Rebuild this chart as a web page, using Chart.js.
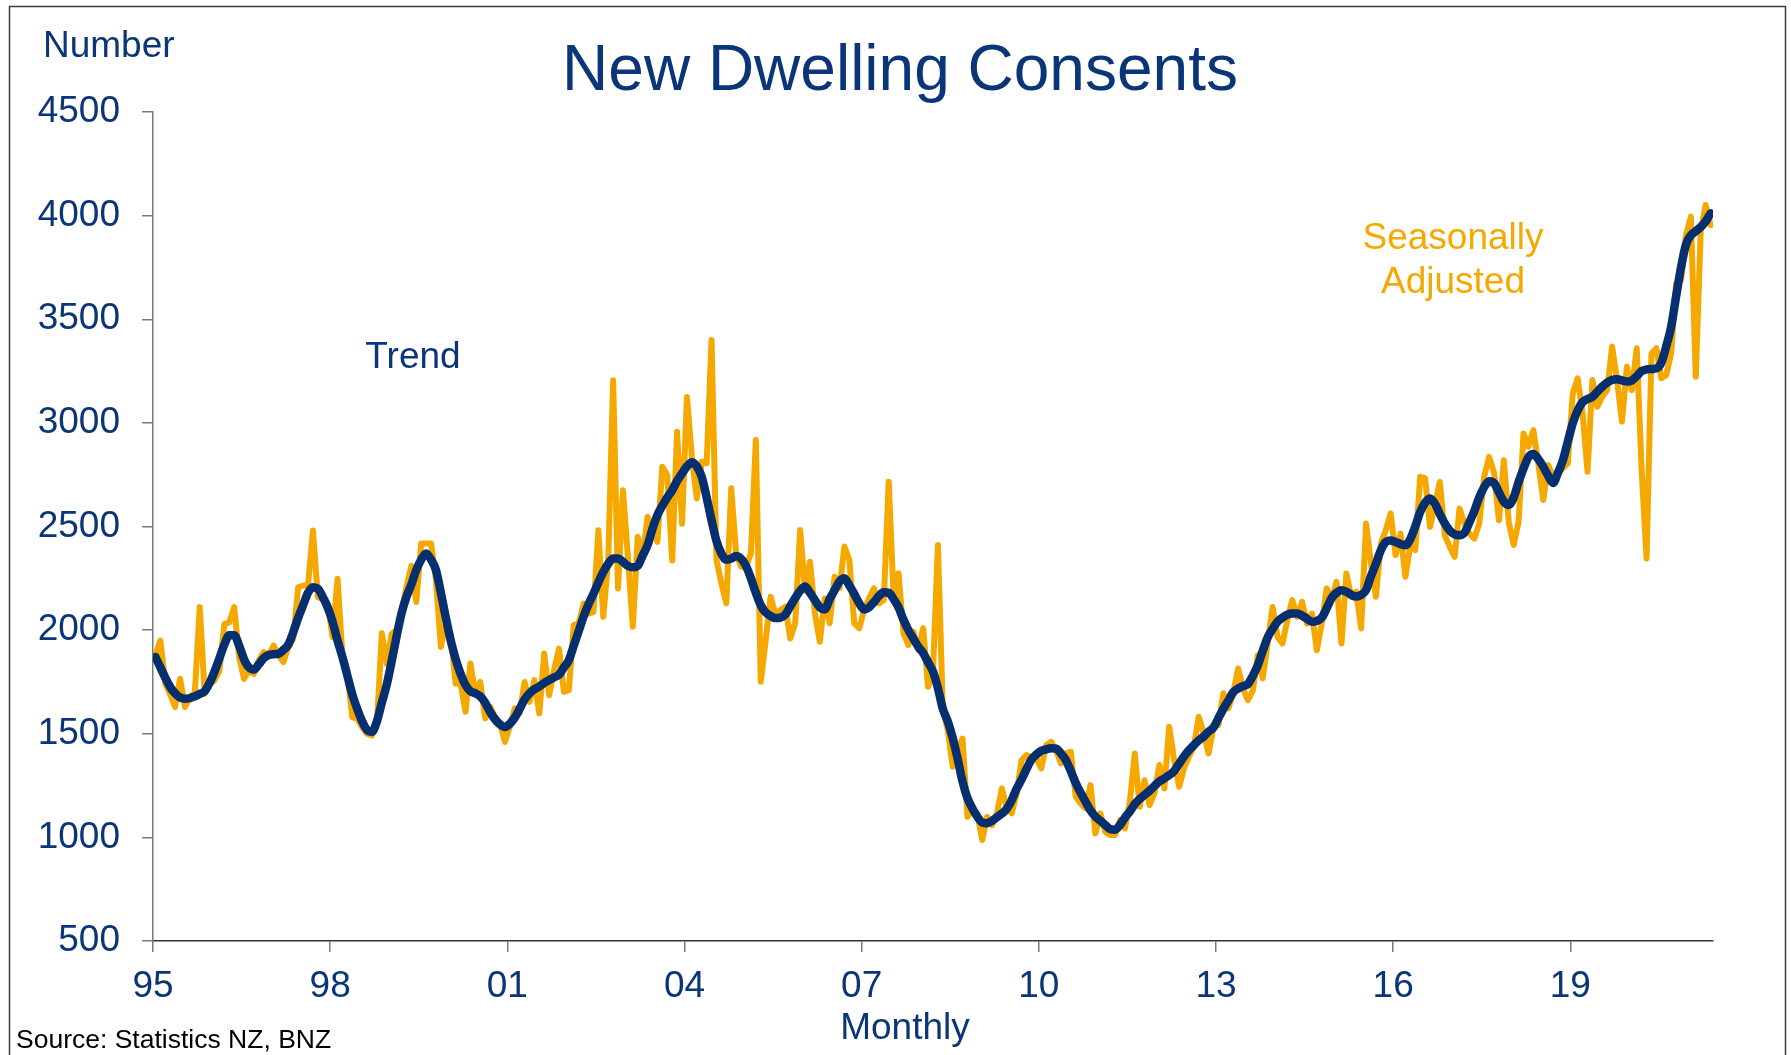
<!DOCTYPE html>
<html>
<head>
<meta charset="utf-8">
<title>New Dwelling Consents</title>
<script src="https://cdn.jsdelivr.net/npm/chart.js@4.4.1/dist/chart.umd.min.js"></script>
<style>
  html, body { margin: 0; padding: 0; background: #fff; }
  #wrap { position: relative; width: 1791px; height: 1055px; }
</style>
</head>
<body>
<div id="wrap"><canvas id="chart" width="1791" height="1055"></canvas></div>
<script>
// New Dwelling Consents ‚Äî monthly, Jan 1995 to May 2021
const START_YEAR = 1995;

// Seasonally adjusted (one row per year)
const seasonallyAdjusted = [
  1880, 1950, 1741, 1690, 1629, 1765, 1629, 1677, 1700, 2111, 1693, 1741,
  1757, 1805, 2029, 2037, 2111, 1870, 1765, 1805, 1789, 1854, 1894, 1878,
  1926, 1878, 1846, 1918, 1958, 2207, 2215, 2215, 2481, 2159, 2151, 2127,
  1966, 2248, 1870, 1789, 1580, 1572, 1532, 1500, 1492, 1548, 1985, 1838,
  1982, 2000, 2095, 2207, 2310, 2136, 2418, 2418, 2418, 2241, 1919, 2032,
  1976, 1742, 1742, 1606, 1839, 1694, 1750, 1574, 1630, 1582, 1550, 1461,
  1533, 1622, 1598, 1750, 1654, 1759, 1598, 1887, 1686, 1807, 1911, 1702,
  1710, 2024, 2032, 2128, 2080, 2088, 2482, 2064, 2337, 3206, 2201, 2675,
  2354, 2016, 2450, 2354, 2546, 2480, 2426, 2788, 2748, 2337, 2957, 2514,
  3125, 2836, 2635, 2813, 2805, 3400, 2338, 2226, 2129, 2684, 2370, 2306,
  2306, 2370, 2917, 1751, 1952, 2161, 2073, 2097, 2113, 1960, 2033, 2483,
  2193, 2330, 2081, 1944, 2153, 2033, 2258, 2202, 2403, 2338, 2033, 2009,
  2097, 2153, 2202, 2129, 2145, 2716, 2161, 2274, 1985, 1928, 1993, 1904,
  2009, 1727, 1800, 2411, 1615, 1518, 1341, 1420, 1477, 1099, 1132, 1116,
  987, 1099, 1059, 1116, 1236, 1140, 1116, 1212, 1373, 1397, 1389, 1381,
  1333, 1445, 1461, 1421, 1357, 1405, 1413, 1196, 1164, 1140, 1252, 1019,
  1116, 1027, 1011, 1011, 1083, 1043, 1172, 1405, 1148, 1276, 1156, 1212,
  1349, 1236, 1534, 1373, 1244, 1333, 1389, 1437, 1582, 1502, 1405, 1534,
  1542, 1695, 1622, 1695, 1815, 1718, 1662, 1710, 1879, 1767, 1935, 2112,
  1968, 1935, 2048, 2145, 2064, 2137, 2032, 2080, 1903, 2032, 2201, 2145,
  2233, 1935, 2273, 2161, 2185, 2008, 2514, 2321, 2161, 2418, 2482, 2563,
  2362, 2466, 2257, 2410, 2386, 2740, 2732, 2498, 2603, 2715, 2458, 2402,
  2354, 2587, 2514, 2466, 2442, 2514, 2740, 2836, 2760, 2530, 2820, 2520,
  2411, 2523, 2949, 2885, 2965, 2805, 2628, 2797, 2740, 2756, 2781, 2805,
  3142, 3215, 3046, 2764, 3207, 3078, 3126, 3158, 3368, 3207, 3006, 3271,
  3158, 3360, 2772, 2346, 3335, 3360, 3215, 3231, 3335, 3673, 3689, 3906,
  3995, 3223, 3922, 4051, 3954
];

// Trend (one row per year)
const trend = [
  1870, 1820, 1770, 1725, 1695, 1675, 1669, 1672, 1680, 1692, 1705, 1745,
  1800, 1865, 1930, 1975, 1975, 1925, 1860, 1820, 1810, 1835, 1865, 1880,
  1884, 1886, 1905, 1930, 1990, 2060, 2120, 2180, 2207, 2200, 2160, 2110,
  2040, 1950, 1870, 1780, 1690, 1620, 1560, 1518, 1510, 1560, 1650, 1737,
  1850, 1970, 2080, 2160, 2220, 2290, 2340, 2370, 2340, 2290, 2180, 2060,
  1950, 1860, 1790, 1735, 1705, 1695, 1680, 1650, 1605, 1570, 1545, 1533,
  1548, 1578, 1620, 1665, 1695, 1715, 1728, 1745, 1759, 1772, 1785, 1820,
  1855, 1925, 1995, 2065, 2125, 2175, 2230, 2280, 2320, 2345, 2345, 2330,
  2310, 2303, 2310, 2360, 2410, 2490, 2555, 2600, 2640, 2675, 2720, 2756,
  2790, 2810, 2790, 2740, 2640, 2530, 2430, 2370, 2340, 2345, 2358, 2345,
  2310, 2250, 2180, 2120, 2085, 2068, 2058, 2060, 2075, 2115, 2155, 2190,
  2210, 2180, 2145, 2110, 2100, 2150, 2193, 2235, 2250, 2215, 2175, 2130,
  2100, 2110, 2135, 2165, 2183, 2180, 2150, 2110, 2050, 2000, 1960, 1920,
  1890, 1845, 1800, 1720, 1620, 1560, 1480, 1380, 1270, 1190, 1140, 1100,
  1072, 1068, 1080, 1097, 1115, 1138, 1180, 1235, 1280, 1330, 1375, 1400,
  1418, 1425, 1430, 1428, 1405, 1373, 1320, 1262, 1215, 1172, 1130, 1100,
  1080, 1060, 1040, 1037, 1060, 1095, 1125, 1160, 1185, 1205, 1225, 1248,
  1270, 1284, 1300, 1320, 1355, 1390, 1420, 1445, 1468, 1487, 1510, 1530,
  1575, 1620, 1660, 1700, 1718, 1730, 1740, 1780, 1830, 1900, 1965, 2005,
  2040, 2060, 2075, 2080, 2080, 2070, 2055, 2040, 2045, 2060, 2105, 2155,
  2180, 2193, 2185, 2170, 2162, 2170, 2193, 2260, 2320, 2385, 2425, 2433,
  2425, 2415, 2410, 2440, 2500, 2570, 2615, 2635, 2610, 2560, 2515, 2480,
  2462, 2458, 2470, 2520, 2575, 2640, 2690, 2718, 2710, 2665, 2620, 2604,
  2640, 2715, 2780, 2835, 2850, 2825, 2789, 2745, 2710, 2760, 2820, 2910,
  2998, 3060, 3100, 3115, 3126, 3150, 3175, 3195, 3208, 3210, 3205, 3200,
  3205, 3225, 3250, 3258, 3260, 3263, 3290, 3370, 3464, 3610, 3750, 3860,
  3905, 3925, 3945, 3972, 4011
];

// Axis ticks
const xTickYears = [1995, 1998, 2001, 2004, 2007, 2010, 2013, 2016, 2019];
const xTickLabels = ['95', '98', '01', '04', '07', '10', '13', '16', '19'];
const yTicks = [500, 1000, 1500, 2000, 2500, 3000, 3500, 4000, 4500];

// Colours / fonts
const NAVY = '#0a3578';
const TREND_BLUE = '#062f6f';
const ORANGE = '#f5a800';
const AXIS_GREY = '#7a7a7a';
const FONT = '"Liberation Sans", Arial, sans-serif';

// each month sits in the middle of its slot on the year axis
function toPoints(values) {
  return values.map((v, k) => ({ x: START_YEAR + (k + 0.5) / 12, y: v }));
}

// Titles, series labels, source and frame
const textPlugin = {
  id: 'chartText',
  afterDraw(chart) {
    const ctx = chart.ctx;
    ctx.save();

    ctx.strokeStyle = '#3c3c3c';
    ctx.lineWidth = 1.5;
    ctx.strokeRect(9.5, 6.5, 1776, 1070);

    ctx.textBaseline = 'alphabetic';
    ctx.fillStyle = NAVY;

    ctx.textAlign = 'center';
    ctx.font = '64px ' + FONT;
    ctx.fillText('New Dwelling Consents', 900, 90);

    ctx.font = '37px ' + FONT;
    ctx.textAlign = 'left';
    ctx.fillText('Number', 43, 57);

    ctx.textAlign = 'center';
    ctx.fillText('Trend', 413, 368);
    ctx.fillText('Monthly', 905, 1039);

    ctx.fillStyle = ORANGE;
    ctx.fillText('Seasonally', 1453, 249);
    ctx.fillText('Adjusted', 1453, 293);

    ctx.fillStyle = '#000';
    ctx.textAlign = 'left';
    ctx.font = '26.5px ' + FONT;
    ctx.fillText('Source: Statistics NZ, BNZ', 16, 1048);

    ctx.restore();
  }
};

const ctx = document.getElementById('chart').getContext('2d');

new Chart(ctx, {
  type: 'line',
  data: {
    datasets: [
      {
        label: 'Trend',
        data: toPoints(trend),
        borderColor: TREND_BLUE,
        borderWidth: 8.5,
        cubicInterpolationMode: 'monotone',
        borderCapStyle: 'round',
        borderJoinStyle: 'round',
        pointRadius: 0,
        fill: false
      },
      {
        label: 'Seasonally Adjusted',
        data: toPoints(seasonallyAdjusted),
        borderColor: ORANGE,
        borderWidth: 6,
        tension: 0,
        borderCapStyle: 'round',
        borderJoinStyle: 'round',
        pointRadius: 0,
        fill: false
      }
    ]
  },
  options: {
    responsive: false,
    animation: false,
    devicePixelRatio: 1,
    layout: { padding: { top: 112, right: 78, bottom: 0, left: 0 } },
    plugins: {
      legend: { display: false },
      tooltip: { enabled: false },
      title: { display: false }
    },
    scales: {
      x: {
        type: 'linear',
        min: START_YEAR,
        max: START_YEAR + seasonallyAdjusted.length / 12,
        afterBuildTicks: scale => { scale.ticks = xTickYears.map(v => ({ value: v })); },
        afterFit: scale => { scale.height = 114; },
        grid: {
          drawOnChartArea: false,
          drawTicks: true,
          tickLength: 11,
          color: AXIS_GREY,
          lineWidth: 1.5
        },
        border: { display: true, color: '#333', width: 1.5 },
        ticks: {
          color: NAVY,
          font: { family: FONT, size: 37 },
          padding: 13,
          maxRotation: 0,
          autoSkip: false,
          callback: (v, i) => xTickLabels[i]
        }
      },
      y: {
        min: 500,
        max: 4500,
        afterBuildTicks: scale => { scale.ticks = yTicks.map(v => ({ value: v })); },
        afterFit: scale => { scale.width = 153; },
        grid: {
          drawOnChartArea: false,
          drawTicks: true,
          tickLength: 11,
          color: AXIS_GREY,
          lineWidth: 1.5
        },
        border: { display: true, color: AXIS_GREY, width: 1.5 },
        ticks: {
          color: NAVY,
          font: { family: FONT, size: 37 },
          padding: 22,
          callback: v => String(v)
        }
      }
    }
  },
  plugins: [textPlugin]
});
</script>
</body>
</html>
